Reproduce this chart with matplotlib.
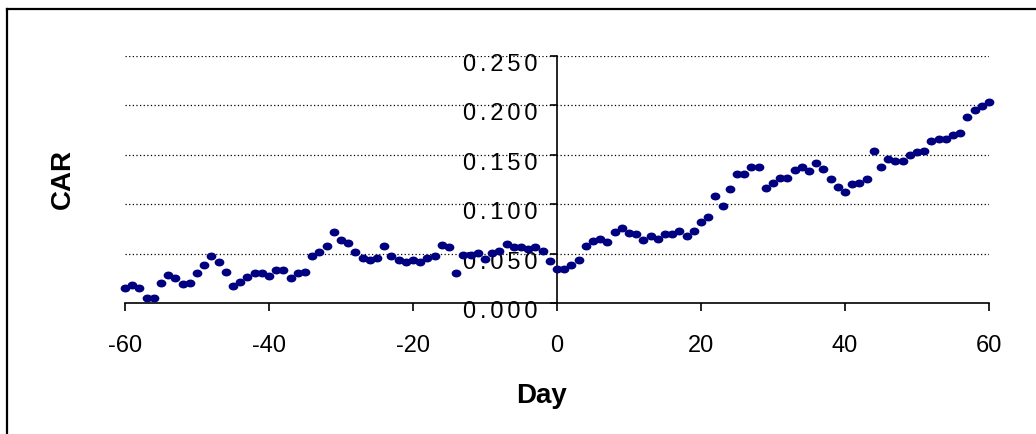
import numpy as np
import matplotlib
matplotlib.use("Agg")
import matplotlib.pyplot as plt
from matplotlib.lines import Line2D
from matplotlib.markers import MarkerStyle
from matplotlib.transforms import Affine2D, ScaledTranslation

plt.rcParams['font.family'] = ['Liberation Sans', 'DejaVu Sans']

# event window, day -60 .. +60
days = np.arange(-60, 61)

# cumulative abnormal return
car = [
    0.015, 0.018, 0.015, 0.005, 0.005, 0.020, 0.028, 0.025, 0.019, 0.020,   # -60..-51
    0.030, 0.038, 0.048, 0.041, 0.031, 0.017, 0.021, 0.026, 0.030, 0.030,   # -50..-41
    0.027, 0.033, 0.033, 0.025, 0.030, 0.031, 0.048, 0.052, 0.058, 0.072,   # -40..-31
    0.064, 0.061, 0.052, 0.046, 0.044, 0.046, 0.058, 0.048, 0.044, 0.041,   # -30..-21
    0.044, 0.042, 0.046, 0.048, 0.059, 0.057, 0.030, 0.049, 0.049, 0.051,   # -20..-11
    0.045, 0.051, 0.053, 0.060, 0.057, 0.057, 0.055, 0.057, 0.053, 0.043,   # -10..-1
    0.034,                                                                   # 0
    0.034, 0.038, 0.044, 0.058, 0.063, 0.065, 0.062, 0.072, 0.076, 0.071,   # 1..10
    0.070, 0.064, 0.068, 0.065, 0.070, 0.070, 0.073, 0.068, 0.073, 0.082,   # 11..20
    0.087, 0.108, 0.098, 0.115, 0.131, 0.131, 0.138, 0.138, 0.116, 0.121,   # 21..30
    0.127, 0.127, 0.135, 0.138, 0.134, 0.142, 0.136, 0.125, 0.117, 0.112,   # 31..40
    0.120, 0.121, 0.125, 0.154, 0.138, 0.146, 0.144, 0.144, 0.150, 0.153,   # 41..50
    0.154, 0.164, 0.166, 0.166, 0.170, 0.172, 0.188, 0.195, 0.199, 0.203,   # 51..60
]

xticks = [-60, -40, -20, 0, 20, 40, 60]
yticks = [0.0, 0.05, 0.10, 0.15, 0.20, 0.25]

W, H = 1036, 434
fig = plt.figure(figsize=(W / 100, H / 100), dpi=100)
ax = fig.add_axes([125 / W, (H - 303) / H, 864 / W, 247 / H])

# dotted gridlines
for v in yticks[1:]:
    ax.axhline(v, color='black', lw=0.9, ls=(0, (1, 1.9)), zorder=1)

marker = MarkerStyle('o', transform=Affine2D().scale(1.0, 0.78))
ax.plot(days, car, ls='none', marker=marker, ms=6, color='#000080',
        mec='#000080', clip_on=False, zorder=3)

ax.set_xlim(-60, 60)
ax.set_ylim(0, 0.25)

ax.spines['top'].set_visible(False)
ax.spines['right'].set_visible(False)
ax.spines['left'].set_position(('data', 0))
for s in ('left', 'bottom'):
    ax.spines[s].set_linewidth(1.2)

ax.set_xticks(xticks)
ax.set_xticklabels([str(t) for t in xticks])
ax.set_yticks(yticks)
ax.set_yticklabels(['\u2006'.join(f"{v:.3f}") for v in yticks])

ax.tick_params(axis='x', direction='out', length=6, width=1.2, labelsize=17, pad=17)
ax.tick_params(axis='y', direction='out', length=5, width=1.2, labelsize=17, pad=9)

# labels hang below their tick like the original
up = ScaledTranslation(0, 1.5 / 72, fig.dpi_scale_trans)
for lab in ax.get_yticklabels():
    lab.set_va('top')
    lab.set_transform(lab.get_transform() + up)

ax.set_xlabel('Day', fontsize=20, fontweight='bold')
ax.xaxis.set_label_coords((542 - 125) / 864, (303 - 383) / 247)
ax.set_ylabel('CAR', fontsize=20, fontweight='bold', va='center')
ax.yaxis.set_label_coords((63 - 125) / 864, 0.5)

# chart frame (only top and left edges show in the crop)
fx = 7 / W
fy = 1 - 9 / H
fig.add_artist(Line2D([fx, fx], [0, fy], transform=fig.transFigure, color='black', lw=1.6))
fig.add_artist(Line2D([fx, 1], [fy, fy], transform=fig.transFigure, color='black', lw=1.6))

fig.savefig('out.png', dpi=100)
